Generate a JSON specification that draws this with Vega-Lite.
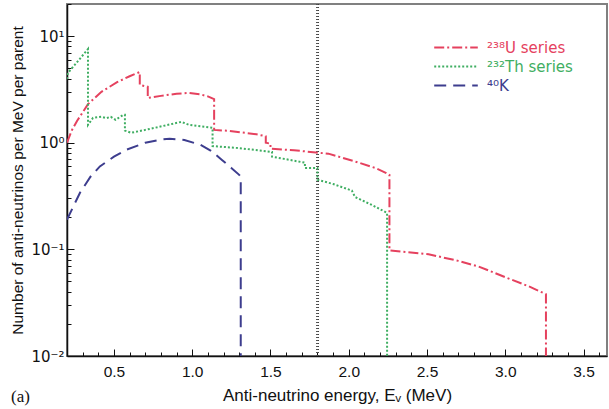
{
  "$schema": "https://vega.github.io/schema/vega-lite/v6.json",
  "width": 540,
  "height": 352,
  "autosize": {"type": "none"},
  "padding": {"left": 67, "top": 4, "right": 2, "bottom": 53},
  "background": "white",
  "config": {
    "font": "Liberation Sans",
    "view": {"stroke": "#808080", "strokeWidth": 2},
    "axis": {"domainColor": "#111", "domainWidth": 1.5, "tickColor": "#111", "labelColor": "#111", "titleColor": "#111", "grid": false, "labelFont": "Liberation Sans", "titleFont": "Liberation Sans", "titleFontWeight": "normal"}
  },
  "title": {"text": "(a)", "orient": "bottom", "anchor": "start", "frame": "bounds", "font": "Liberation Serif", "fontSize": 17, "fontWeight": "normal", "color": "#111", "offset": -15},
  "data": {"values": [
    {"series": "²³⁸U series", "i": 1, "E": 0.2, "v": 1.0},
    {"series": "²³⁸U series", "i": 2, "E": 0.23, "v": 1.3},
    {"series": "²³⁸U series", "i": 3, "E": 0.264, "v": 1.6},
    {"series": "²³⁸U series", "i": 4, "E": 0.334, "v": 2.3},
    {"series": "²³⁸U series", "i": 5, "E": 0.42, "v": 3.0},
    {"series": "²³⁸U series", "i": 6, "E": 0.52, "v": 3.7},
    {"series": "²³⁸U series", "i": 7, "E": 0.6, "v": 4.2},
    {"series": "²³⁸U series", "i": 8, "E": 0.665, "v": 4.6},
    {"series": "²³⁸U series", "i": 9, "E": 0.665, "v": 3.48},
    {"series": "²³⁸U series", "i": 10, "E": 0.716, "v": 3.35},
    {"series": "²³⁸U series", "i": 11, "E": 0.716, "v": 2.63},
    {"series": "²³⁸U series", "i": 12, "E": 0.8, "v": 2.75},
    {"series": "²³⁸U series", "i": 13, "E": 0.9, "v": 2.88},
    {"series": "²³⁸U series", "i": 14, "E": 0.98, "v": 2.93},
    {"series": "²³⁸U series", "i": 15, "E": 1.05, "v": 2.85},
    {"series": "²³⁸U series", "i": 16, "E": 1.1, "v": 2.72},
    {"series": "²³⁸U series", "i": 17, "E": 1.14, "v": 2.56},
    {"series": "²³⁸U series", "i": 18, "E": 1.14, "v": 1.32},
    {"series": "²³⁸U series", "i": 19, "E": 1.24, "v": 1.29},
    {"series": "²³⁸U series", "i": 20, "E": 1.41, "v": 1.2},
    {"series": "²³⁸U series", "i": 21, "E": 1.47, "v": 1.15},
    {"series": "²³⁸U series", "i": 22, "E": 1.47, "v": 1.0},
    {"series": "²³⁸U series", "i": 23, "E": 1.5, "v": 0.98},
    {"series": "²³⁸U series", "i": 24, "E": 1.5, "v": 0.88},
    {"series": "²³⁸U series", "i": 25, "E": 1.65, "v": 0.85},
    {"series": "²³⁸U series", "i": 26, "E": 1.79, "v": 0.81},
    {"series": "²³⁸U series", "i": 27, "E": 1.87, "v": 0.79},
    {"series": "²³⁸U series", "i": 28, "E": 2.05, "v": 0.66},
    {"series": "²³⁸U series", "i": 29, "E": 2.17, "v": 0.58},
    {"series": "²³⁸U series", "i": 30, "E": 2.24, "v": 0.52},
    {"series": "²³⁸U series", "i": 31, "E": 2.26, "v": 0.5},
    {"series": "²³⁸U series", "i": 32, "E": 2.26, "v": 0.098},
    {"series": "²³⁸U series", "i": 33, "E": 2.51, "v": 0.09},
    {"series": "²³⁸U series", "i": 34, "E": 2.7, "v": 0.078},
    {"series": "²³⁸U series", "i": 35, "E": 2.83, "v": 0.069},
    {"series": "²³⁸U series", "i": 36, "E": 3.04, "v": 0.052},
    {"series": "²³⁸U series", "i": 37, "E": 3.15, "v": 0.045},
    {"series": "²³⁸U series", "i": 38, "E": 3.26, "v": 0.038},
    {"series": "²³⁸U series", "i": 39, "E": 3.26, "v": 0.01},
    {"series": "²³²Th series", "i": 1, "E": 0.2, "v": 3.96},
    {"series": "²³²Th series", "i": 2, "E": 0.205, "v": 4.5},
    {"series": "²³²Th series", "i": 3, "E": 0.26, "v": 5.6},
    {"series": "²³²Th series", "i": 4, "E": 0.334, "v": 7.56},
    {"series": "²³²Th series", "i": 5, "E": 0.334, "v": 1.47},
    {"series": "²³²Th series", "i": 6, "E": 0.366, "v": 1.71},
    {"series": "²³²Th series", "i": 7, "E": 0.42, "v": 1.75},
    {"series": "²³²Th series", "i": 8, "E": 0.45, "v": 1.7},
    {"series": "²³²Th series", "i": 9, "E": 0.48, "v": 1.75},
    {"series": "²³²Th series", "i": 10, "E": 0.51, "v": 1.64},
    {"series": "²³²Th series", "i": 11, "E": 0.56, "v": 1.83},
    {"series": "²³²Th series", "i": 12, "E": 0.57, "v": 1.83},
    {"series": "²³²Th series", "i": 13, "E": 0.57, "v": 1.3},
    {"series": "²³²Th series", "i": 14, "E": 0.61, "v": 1.24},
    {"series": "²³²Th series", "i": 15, "E": 0.7, "v": 1.32},
    {"series": "²³²Th series", "i": 16, "E": 0.79, "v": 1.41},
    {"series": "²³²Th series", "i": 17, "E": 0.93, "v": 1.57},
    {"series": "²³²Th series", "i": 18, "E": 0.98, "v": 1.47},
    {"series": "²³²Th series", "i": 19, "E": 1.13, "v": 1.38},
    {"series": "²³²Th series", "i": 20, "E": 1.13, "v": 0.93},
    {"series": "²³²Th series", "i": 21, "E": 1.3, "v": 0.89},
    {"series": "²³²Th series", "i": 22, "E": 1.51, "v": 0.82},
    {"series": "²³²Th series", "i": 23, "E": 1.51, "v": 0.74},
    {"series": "²³²Th series", "i": 24, "E": 1.72, "v": 0.65},
    {"series": "²³²Th series", "i": 25, "E": 1.72, "v": 0.58},
    {"series": "²³²Th series", "i": 26, "E": 1.8, "v": 0.58},
    {"series": "²³²Th series", "i": 27, "E": 1.8, "v": 0.45},
    {"series": "²³²Th series", "i": 28, "E": 1.9, "v": 0.41},
    {"series": "²³²Th series", "i": 29, "E": 2.02, "v": 0.356},
    {"series": "²³²Th series", "i": 30, "E": 2.04, "v": 0.31},
    {"series": "²³²Th series", "i": 31, "E": 2.15, "v": 0.26},
    {"series": "²³²Th series", "i": 32, "E": 2.245, "v": 0.22},
    {"series": "²³²Th series", "i": 33, "E": 2.245, "v": 0.01},
    {"series": "⁴⁰K", "i": 1, "E": 0.2, "v": 0.19},
    {"series": "⁴⁰K", "i": 2, "E": 0.25, "v": 0.27},
    {"series": "⁴⁰K", "i": 3, "E": 0.283, "v": 0.34},
    {"series": "⁴⁰K", "i": 4, "E": 0.35, "v": 0.48},
    {"series": "⁴⁰K", "i": 5, "E": 0.41, "v": 0.6},
    {"series": "⁴⁰K", "i": 6, "E": 0.5, "v": 0.74},
    {"series": "⁴⁰K", "i": 7, "E": 0.58, "v": 0.86},
    {"series": "⁴⁰K", "i": 8, "E": 0.7, "v": 1.0},
    {"series": "⁴⁰K", "i": 9, "E": 0.8, "v": 1.07},
    {"series": "⁴⁰K", "i": 10, "E": 0.856, "v": 1.09},
    {"series": "⁴⁰K", "i": 11, "E": 0.95, "v": 1.06},
    {"series": "⁴⁰K", "i": 12, "E": 1.05, "v": 0.96},
    {"series": "⁴⁰K", "i": 13, "E": 1.12, "v": 0.84},
    {"series": "⁴⁰K", "i": 14, "E": 1.19, "v": 0.69},
    {"series": "⁴⁰K", "i": 15, "E": 1.25, "v": 0.58},
    {"series": "⁴⁰K", "i": 16, "E": 1.3, "v": 0.5},
    {"series": "⁴⁰K", "i": 17, "E": 1.31, "v": 0.48},
    {"series": "⁴⁰K", "i": 18, "E": 1.31, "v": 0.01}
  ]},
  "resolve": {"axis": {"x": "independent", "y": "independent"}},
  "layer": [
    {
      "mark": {"type": "rule", "strokeDash": [1, 2], "strokeWidth": 1.2, "color": "#555"},
      "encoding": {
        "x": {"datum": 1.8, "type": "quantitative", "scale": {"domain": [0.2, 3.65], "nice": false, "zero": false},
              "axis": {"orient": "bottom", "title": null, "labels": false, "domain": false, "tickSize": -4, "values": [0.3,0.4,0.6,0.7,0.8,0.9,1.1,1.2,1.3,1.4,1.6,1.7,1.8,1.9,2.1,2.2,2.3,2.4,2.6,2.7,2.8,2.9,3.1,3.2,3.3,3.4,3.6]}},
        "y": {"datum": 0.01, "type": "quantitative", "scale": {"type": "log", "domain": [0.01, 20], "nice": false},
              "axis": {"orient": "left", "title": null, "labels": false, "domain": false, "tickSize": -4, "values": [0.02,0.03,0.04,0.05,0.06,0.07,0.08,0.09,0.2,0.3,0.4,0.5,0.6,0.7,0.8,0.9,2,3,4,5,6,7,8,9,20]}},
        "y2": {"datum": 20}
      }
    },
    {
      "mark": {"type": "line", "strokeWidth": 2, "clip": true},
      "encoding": {
        "x": {"field": "E", "type": "quantitative", "scale": {"domain": [0.2, 3.65], "nice": false, "zero": false},
              "axis": {"orient": "bottom", "title": "Anti-neutrino energy, Eᵥ (MeV)", "values": [0.5,1,1.5,2,2.5,3,3.5], "tickSize": -7, "labelPadding": 15, "labelFontSize": 15.5, "titleFontSize": 17, "titlePadding": 8}},
        "y": {"field": "v", "type": "quantitative", "scale": {"type": "log", "domain": [0.01, 20], "nice": false},
              "axis": {"orient": "left", "title": "Number of anti-neutrinos per MeV per parent", "values": [0.01, 0.1, 1, 10], "tickSize": -7, "labelPadding": 10, "labelFontSize": 15, "labelFont": "DejaVu Sans", "titleFontSize": 15.5, "titlePadding": 5,
                       "labelExpr": "datum.value >= 5 ? '10¹' : datum.value >= 0.5 ? '10⁰' : datum.value >= 0.05 ? '10⁻¹' : '10⁻²'"}},
        "order": {"field": "i", "type": "quantitative"},
        "color": {"field": "series", "type": "nominal",
                  "scale": {"domain": ["²³⁸U series", "²³²Th series", "⁴⁰K"], "range": ["#e5415e", "#3fae62", "#3d3d8e"]},
                  "legend": {"orient": "none", "legendX": 366, "legendY": 36, "title": null, "symbolType": "stroke", "symbolSize": 1900, "symbolStrokeWidth": 2, "labelFontSize": 15, "labelFont": "DejaVu Sans", "rowPadding": 3, "labelOffset": 8, "clipHeight": 15,
                             "labelColor": {"expr": "scale('color', datum.value)"}}},
        "strokeDash": {"field": "series", "type": "nominal",
                       "scale": {"domain": ["²³⁸U series", "²³²Th series", "⁴⁰K"], "range": [[10, 3, 2, 3], [2, 2], [12, 7]]},
                       "legend": {"orient": "none", "legendX": 366, "legendY": 36, "title": null, "symbolType": "stroke", "symbolSize": 1900, "symbolStrokeWidth": 2, "labelFontSize": 15, "labelFont": "DejaVu Sans", "rowPadding": 3, "labelOffset": 8, "clipHeight": 15,
                                  "labelColor": {"expr": "scale('color', datum.value)"}}}
      }
    }
  ]
}
